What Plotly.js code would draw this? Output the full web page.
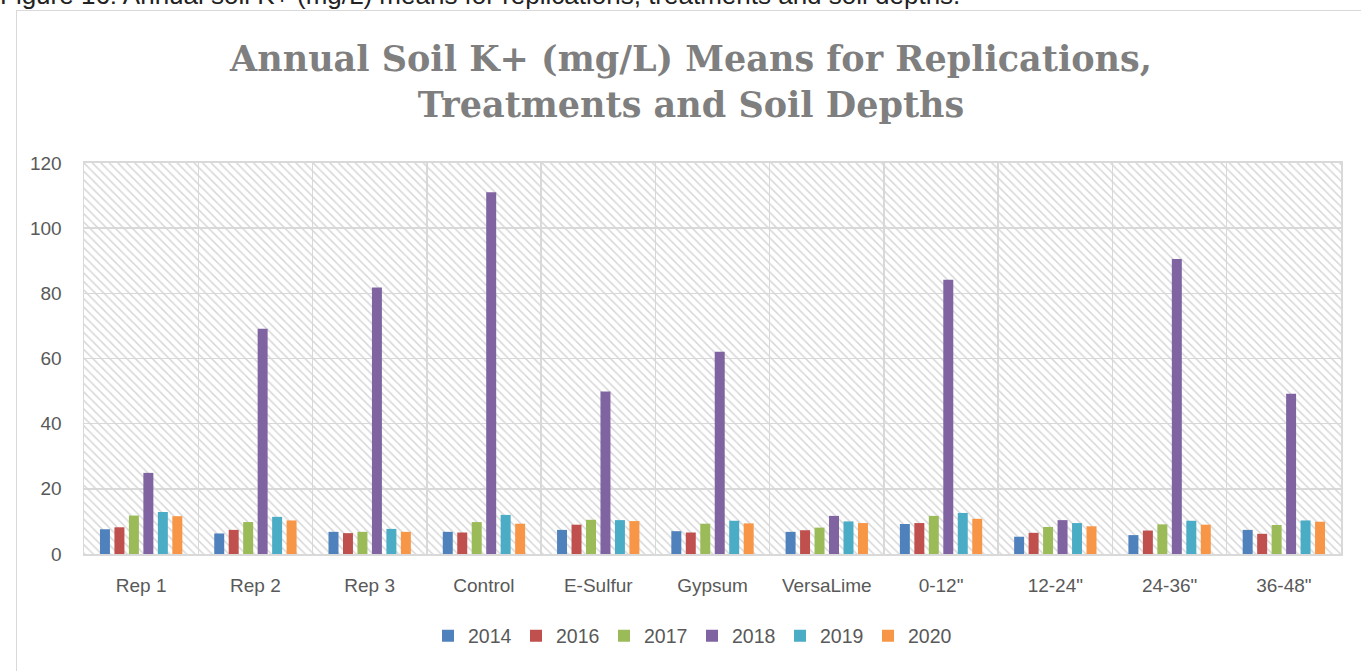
<!DOCTYPE html>
<html>
<head>
<meta charset="utf-8">
<script src="https://cdn.plot.ly/plotly-3.0.1.min.js"></script>
<style>
  html, body { margin: 0; padding: 0; width: 1361px; height: 671px; overflow: hidden; background: #fff; }
  #caption { position: absolute; left: 0; top: -19px; font-family: "Liberation Sans", Arial, sans-serif; font-size: 26px; line-height: 29px; color: #222; white-space: nowrap; }
  #frame { position: absolute; left: 16px; top: 10px; width: 1350px; height: 665px; border: 1px solid #d9d9d9; box-sizing: border-box; }
  #chart { width: 1348px; height: 663px; }
</style>
</head>
<body>
<div id="caption">Figure 16: Annual soil K+ (mg/L) means for replications, treatments and soil depths.</div>
<div id="frame"><div id="chart"></div></div>
<script>
const categories = ["Rep 1", "Rep 2", "Rep 3", "Control", "E-Sulfur", "Gypsum", "VersaLime", "0-12\"", "12-24\"", "24-36\"", "36-48\""];
const years = ["2014", "2016", "2017", "2018", "2019", "2020"];
const v2014 = [7.6, 6.3, 6.8, 6.8, 7.4, 7.0, 6.8, 9.2, 5.3, 5.8, 7.4];
const v2016 = [8.2, 7.4, 6.4, 6.6, 9.0, 6.6, 7.3, 9.5, 6.5, 7.2, 6.2];
const v2017 = [11.8, 9.8, 6.8, 9.8, 10.5, 9.3, 8.1, 11.7, 8.3, 9.1, 8.9];
const v2018 = [24.9, 69.1, 81.8, 111.0, 49.9, 62.1, 11.7, 84.2, 10.4, 90.5, 49.2];
const v2019 = [12.9, 11.4, 7.7, 12.0, 10.4, 10.2, 10.0, 12.6, 9.5, 10.2, 10.3];
const v2020 = [11.6, 10.3, 6.8, 9.3, 10.1, 9.4, 9.5, 10.8, 8.5, 9.0, 9.9];
const yearValues = [v2014, v2016, v2017, v2018, v2019, v2020];
const colors = ["#4f81bd", "#c0504d", "#9bbb59", "#8064a2", "#4bacc6", "#f79646"];
const yTicks = [0, 20, 40, 60, 80, 100, 120];

const labelFont = { family: "Liberation Sans, Arial, sans-serif", size: 19, color: "#595959" };

// background hatch of the plot area (decorative)
const hatch = {
  type: "bar", x: [0.5], y: [yTicks[yTicks.length - 1]], width: [1],
  xaxis: "x", yaxis: "y",
  marker: { color: "#d6d6d6", line: { width: 0 }, pattern: { shape: "\\", size: 6, solidity: 0.25, fillmode: "replace" } },
  showlegend: false, hoverinfo: "skip"
};

const traces = [hatch].concat(years.map((yr, i) => ({
  type: "bar", name: yr, x: categories, y: yearValues[i],
  xaxis: "x2", yaxis: "y",
  marker: { color: colors[i], line: { width: 0 } }
})));

const layout = {
  width: 1348, height: 663,
  margin: { l: 67, r: 24, t: 152, b: 120, autoexpand: false },
  paper_bgcolor: "#ffffff", plot_bgcolor: "#ffffff",
  title: {
    text: "Annual Soil K+ (mg/L) Means for Replications,<br>Treatments and Soil Depths",
    font: { family: "DejaVu Serif, Liberation Serif, serif", size: 35, color: "#7f7f7f", weight: "bold" },
    x: 0.5, xref: "container", xanchor: "center", y: 0.909, yref: "container", yanchor: "middle"
  },
  barmode: "group", bargap: 0.24, bargroupgap: 0.31,
  xaxis: { range: [0, 1], visible: false, fixedrange: true },
  xaxis2: {
    overlaying: "x", type: "category", tickson: "boundaries",
    showgrid: true, gridcolor: "#d9d9d9", gridwidth: 1.5,
    showline: true, linecolor: "#d9d9d9", linewidth: 2, mirror: true,
    ticks: "", tickfont: labelFont, ticklabelstandoff: 13, tickangle: 0, automargin: false
  },
  yaxis: {
    range: [0, 120], tickvals: yTicks, ticktext: yTicks.map(String),
    showgrid: true, gridcolor: "#d9d9d9", gridwidth: 1.5, zeroline: false,
    showline: true, linecolor: "#d9d9d9", linewidth: 1.5, mirror: true,
    ticks: "", tickfont: labelFont, ticklabelstandoff: 17, automargin: false
  },
  legend: {
    orientation: "h", x: 0.4837, xanchor: "center",
    y: -0.21, yanchor: "middle",
    font: { family: "Liberation Sans, Arial, sans-serif", size: 19.5, color: "#595959" },
    entrywidth: 43, entrywidthmode: "pixels",
    traceorder: "normal"
  },
  showlegend: true
};

Plotly.newPlot("chart", traces, layout, { staticPlot: true, displayModeBar: false });
</script>
</body>
</html>
